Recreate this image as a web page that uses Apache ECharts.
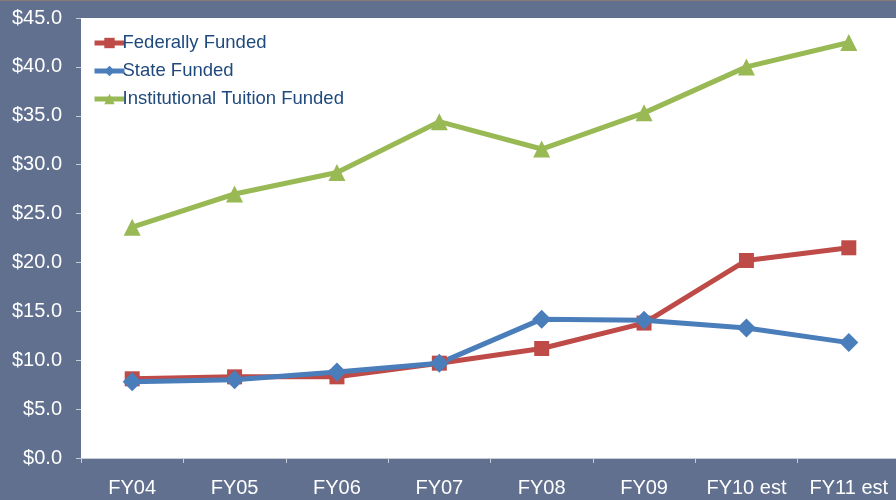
<!DOCTYPE html>
<html><head><meta charset="utf-8">
<script src="https://cdn.jsdelivr.net/npm/echarts@6/dist/echarts.min.js"></script>
<style>html,body{margin:0;padding:0;background:#61708e}#c{width:896px;height:500px}</style>
</head><body><div id="c"></div>
<script>
var categories = ['FY04','FY05','FY06','FY07','FY08','FY09','FY10 est','FY11 est'];
var federal = [8.1, 8.3, 8.3, 9.7, 11.2, 13.8, 20.2, 21.5];
var state = [7.8, 8.0, 8.8, 9.7, 14.2, 14.1, 13.3, 11.8];
var tuition = [23.6, 27.0, 29.2, 34.4, 31.6, 35.3, 40.0, 42.5];
var yTicks = {min: 0, max: 45, interval: 5};

var chart = echarts.init(document.getElementById('c'));
function ser(name, data, color, symbol, size){
  return {name: name, type: 'line', data: data, symbol: symbol, symbolSize: size,
    lineStyle: {color: color, width: 5}, itemStyle: {color: color},
    emphasis: {disabled: true}, animation: false};
}
chart.setOption({
  backgroundColor: '#61708e',
  animation: false,
  graphic: [
    {type: 'rect', shape: {x: 0, y: 0, width: 896, height: 1}, style: {fill: '#8a7a78'}}
  ],
  grid: {left: 81, width: 819, top: 18, height: 440, containLabel: false, outerBoundsMode: 'none',
    show: true, backgroundColor: '#ffffff', borderWidth: 0},
  legend: {
    orient: 'vertical', left: 87, top: 28, itemGap: 8, itemWidth: 30, itemHeight: 13,
    textStyle: {color: '#1f497d', fontSize: 18.5, lineHeight: 20, fontFamily: 'Liberation Sans, Arial', padding: [0,0,0,-7]},
    data: [
      {name: 'Federally Funded', lineStyle: {width: 5}},
      {name: 'State Funded', lineStyle: {width: 5}},
      {name: 'Institutional Tuition Funded', lineStyle: {width: 5}}
    ]
  },
  xAxis: {
    type: 'category', data: categories, boundaryGap: true,
    axisLine: {show: true, lineStyle: {color: '#c8ccd6', width: 1}},
    axisTick: {show: true, length: 5, lineStyle: {color: '#c8ccd6'}},
    axisLabel: {color: '#ffffff', fontSize: 20, fontFamily: 'Liberation Sans, Arial', margin: 20, interval: 0},
    splitLine: {show: false}
  },
  yAxis: {
    type: 'value', min: yTicks.min, max: yTicks.max, interval: yTicks.interval,
    axisLine: {show: false},
    axisTick: {show: true, length: 5, lineStyle: {color: '#c8ccd6'}},
    axisLabel: {color: '#ffffff', fontSize: 20, fontFamily: 'Liberation Sans, Arial', margin: 19,
      formatter: function(v){ return '$' + v.toFixed(1); }},
    splitLine: {show: false}
  },
  series: [
    ser('Federally Funded', federal, '#be4b48', 'rect', 15),
    ser('State Funded', state, '#4a7ebb', 'diamond', 19),
    ser('Institutional Tuition Funded', tuition, '#98b954', 'triangle', 17)
  ]
});
</script></body></html>
